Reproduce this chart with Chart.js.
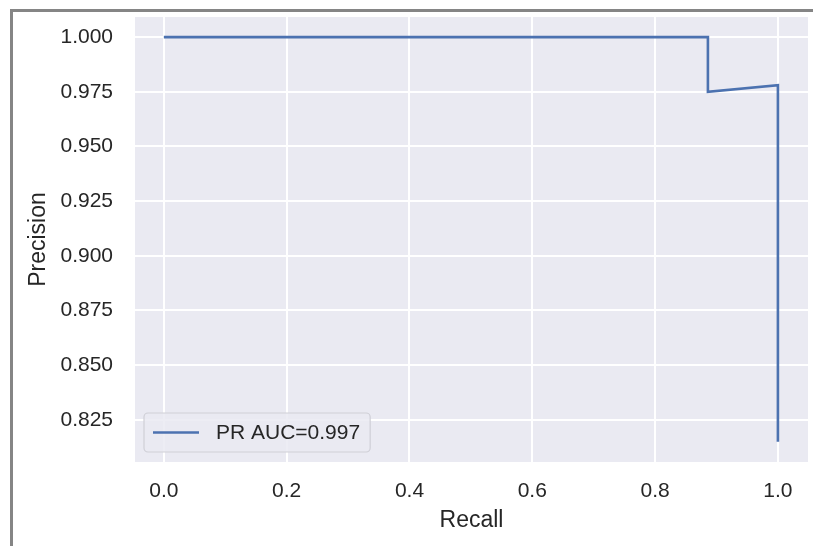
<!DOCTYPE html>
<html>
<head>
<meta charset="utf-8">
<script src="https://cdn.jsdelivr.net/npm/chart.js@4.4.1/dist/chart.umd.min.js"></script>
<style>
  html, body { margin: 0; padding: 0; background: #ffffff; }
  #wrap { position: relative; width: 813px; height: 546px; }
  #frame {
    position: absolute; left: 10px; top: 9px; width: 803px; height: 537px;
    border-top: 3px solid #858585; border-left: 3px solid #858585;
    box-sizing: border-box; pointer-events: none;
  }
</style>
</head>
<body>
<div id="wrap">
  <canvas id="prChart" width="813" height="546"></canvas>
  <div id="frame"></div>
</div>
<script>
// PR curve values
const recall = [0.0, 0.886, 0.886, 1.0, 1.0];
const precision = [1.0, 1.0, 0.975, 0.978, 0.815];
const curveLabel = 'PR AUC=0.997';

const xTicks = [0.0, 0.2, 0.4, 0.6, 0.8, 1.0];
const yTicks = [0.825, 0.850, 0.875, 0.900, 0.925, 0.950, 0.975, 1.000];

const fontFamily = '"Liberation Sans", Arial, Helvetica, sans-serif';
const textColor = '#262626';

// grey plot background like seaborn darkgrid
const plotBackground = {
    id: 'plotBackground',
    beforeDraw(chart) {
        const a = chart.chartArea;
        const ctx = chart.ctx;
        ctx.save();
        ctx.fillStyle = '#eaeaf2';
        ctx.fillRect(a.left, a.top, a.right - a.left, a.bottom - a.top);
        ctx.restore();
    }
};

// legend box in the lower left corner of the axes
const innerLegend = {
    id: 'innerLegend',
    afterDatasetsDraw(chart) {
        const a = chart.chartArea;
        const ctx = chart.ctx;
        const ds = chart.data.datasets[0];
        ctx.save();
        ctx.font = '21px ' + fontFamily;
        const textW = ctx.measureText(ds.label).width;
        const x = a.left + 9;
        const h = 39;
        const y = a.bottom - 10 - h;
        const w = 9 + 46 + 17 + textW + 10;
        ctx.beginPath();
        ctx.roundRect(x, y, w, h, 4);
        ctx.fillStyle = 'rgba(234,234,242,0.85)';
        ctx.fill();
        ctx.lineWidth = 1.2;
        ctx.strokeStyle = '#cfcfd6';
        ctx.stroke();
        ctx.beginPath();
        ctx.moveTo(x + 9, y + h / 2);
        ctx.lineTo(x + 55, y + h / 2);
        ctx.strokeStyle = ds.borderColor;
        ctx.lineWidth = ds.borderWidth;
        ctx.stroke();
        ctx.fillStyle = textColor;
        ctx.textBaseline = 'middle';
        ctx.fillText(ds.label, x + 72, y + h / 2 + 1);
        ctx.restore();
    }
};

const points = recall.map((r, i) => ({ x: r, y: precision[i] }));

new Chart(document.getElementById('prChart'), {
    type: 'scatter',
    data: {
        datasets: [{
            label: curveLabel,
            data: points,
            showLine: true,
            borderColor: '#4c72b0',
            backgroundColor: '#4c72b0',
            borderWidth: 2.6,
            pointRadius: 0,
            tension: 0
        }]
    },
    options: {
        responsive: false,
        animation: false,
        layout: { padding: { top: 17, right: 5, left: 0, bottom: 0 } },
        plugins: {
            legend: { display: false },
            tooltip: { enabled: false }
        },
        scales: {
            x: {
                type: 'linear',
                min: -0.047,
                max: 1.049,
                afterBuildTicks: (scale) => { scale.ticks = xTicks.map(v => ({ value: v })); },
                afterFit: (scale) => {
                    scale.height = 84;
                    scale.paddingLeft = 0;
                    scale.paddingRight = 0;
                },
                ticks: {
                    callback: (v) => v.toFixed(1),
                    color: textColor,
                    font: { family: fontFamily, size: 21 },
                    padding: 17,
                    maxRotation: 0
                },
                grid: { color: '#ffffff', lineWidth: 2, drawTicks: false },
                border: { display: false },
                title: {
                    display: true,
                    text: 'Recall',
                    color: textColor,
                    font: { family: fontFamily, size: 23 },
                    padding: { top: 0, bottom: 12 }
                }
            },
            y: {
                type: 'linear',
                min: 0.8057,
                max: 1.0092,
                afterBuildTicks: (scale) => { scale.ticks = yTicks.map(v => ({ value: v })); },
                afterFit: (scale) => {
                    scale.width = 135;
                    scale.paddingTop = 0;
                    scale.paddingBottom = 0;
                },
                ticks: {
                    callback: (v) => v.toFixed(3),
                    color: textColor,
                    font: { family: fontFamily, size: 21 },
                    padding: 22
                },
                grid: { color: '#ffffff', lineWidth: 2, drawTicks: false },
                border: { display: false },
                title: {
                    display: true,
                    text: 'Precision',
                    color: textColor,
                    font: { family: fontFamily, size: 23 },
                    padding: { top: 25, bottom: 0 }
                }
            }
        }
    },
    plugins: [plotBackground, innerLegend]
});
</script>
</body>
</html>
